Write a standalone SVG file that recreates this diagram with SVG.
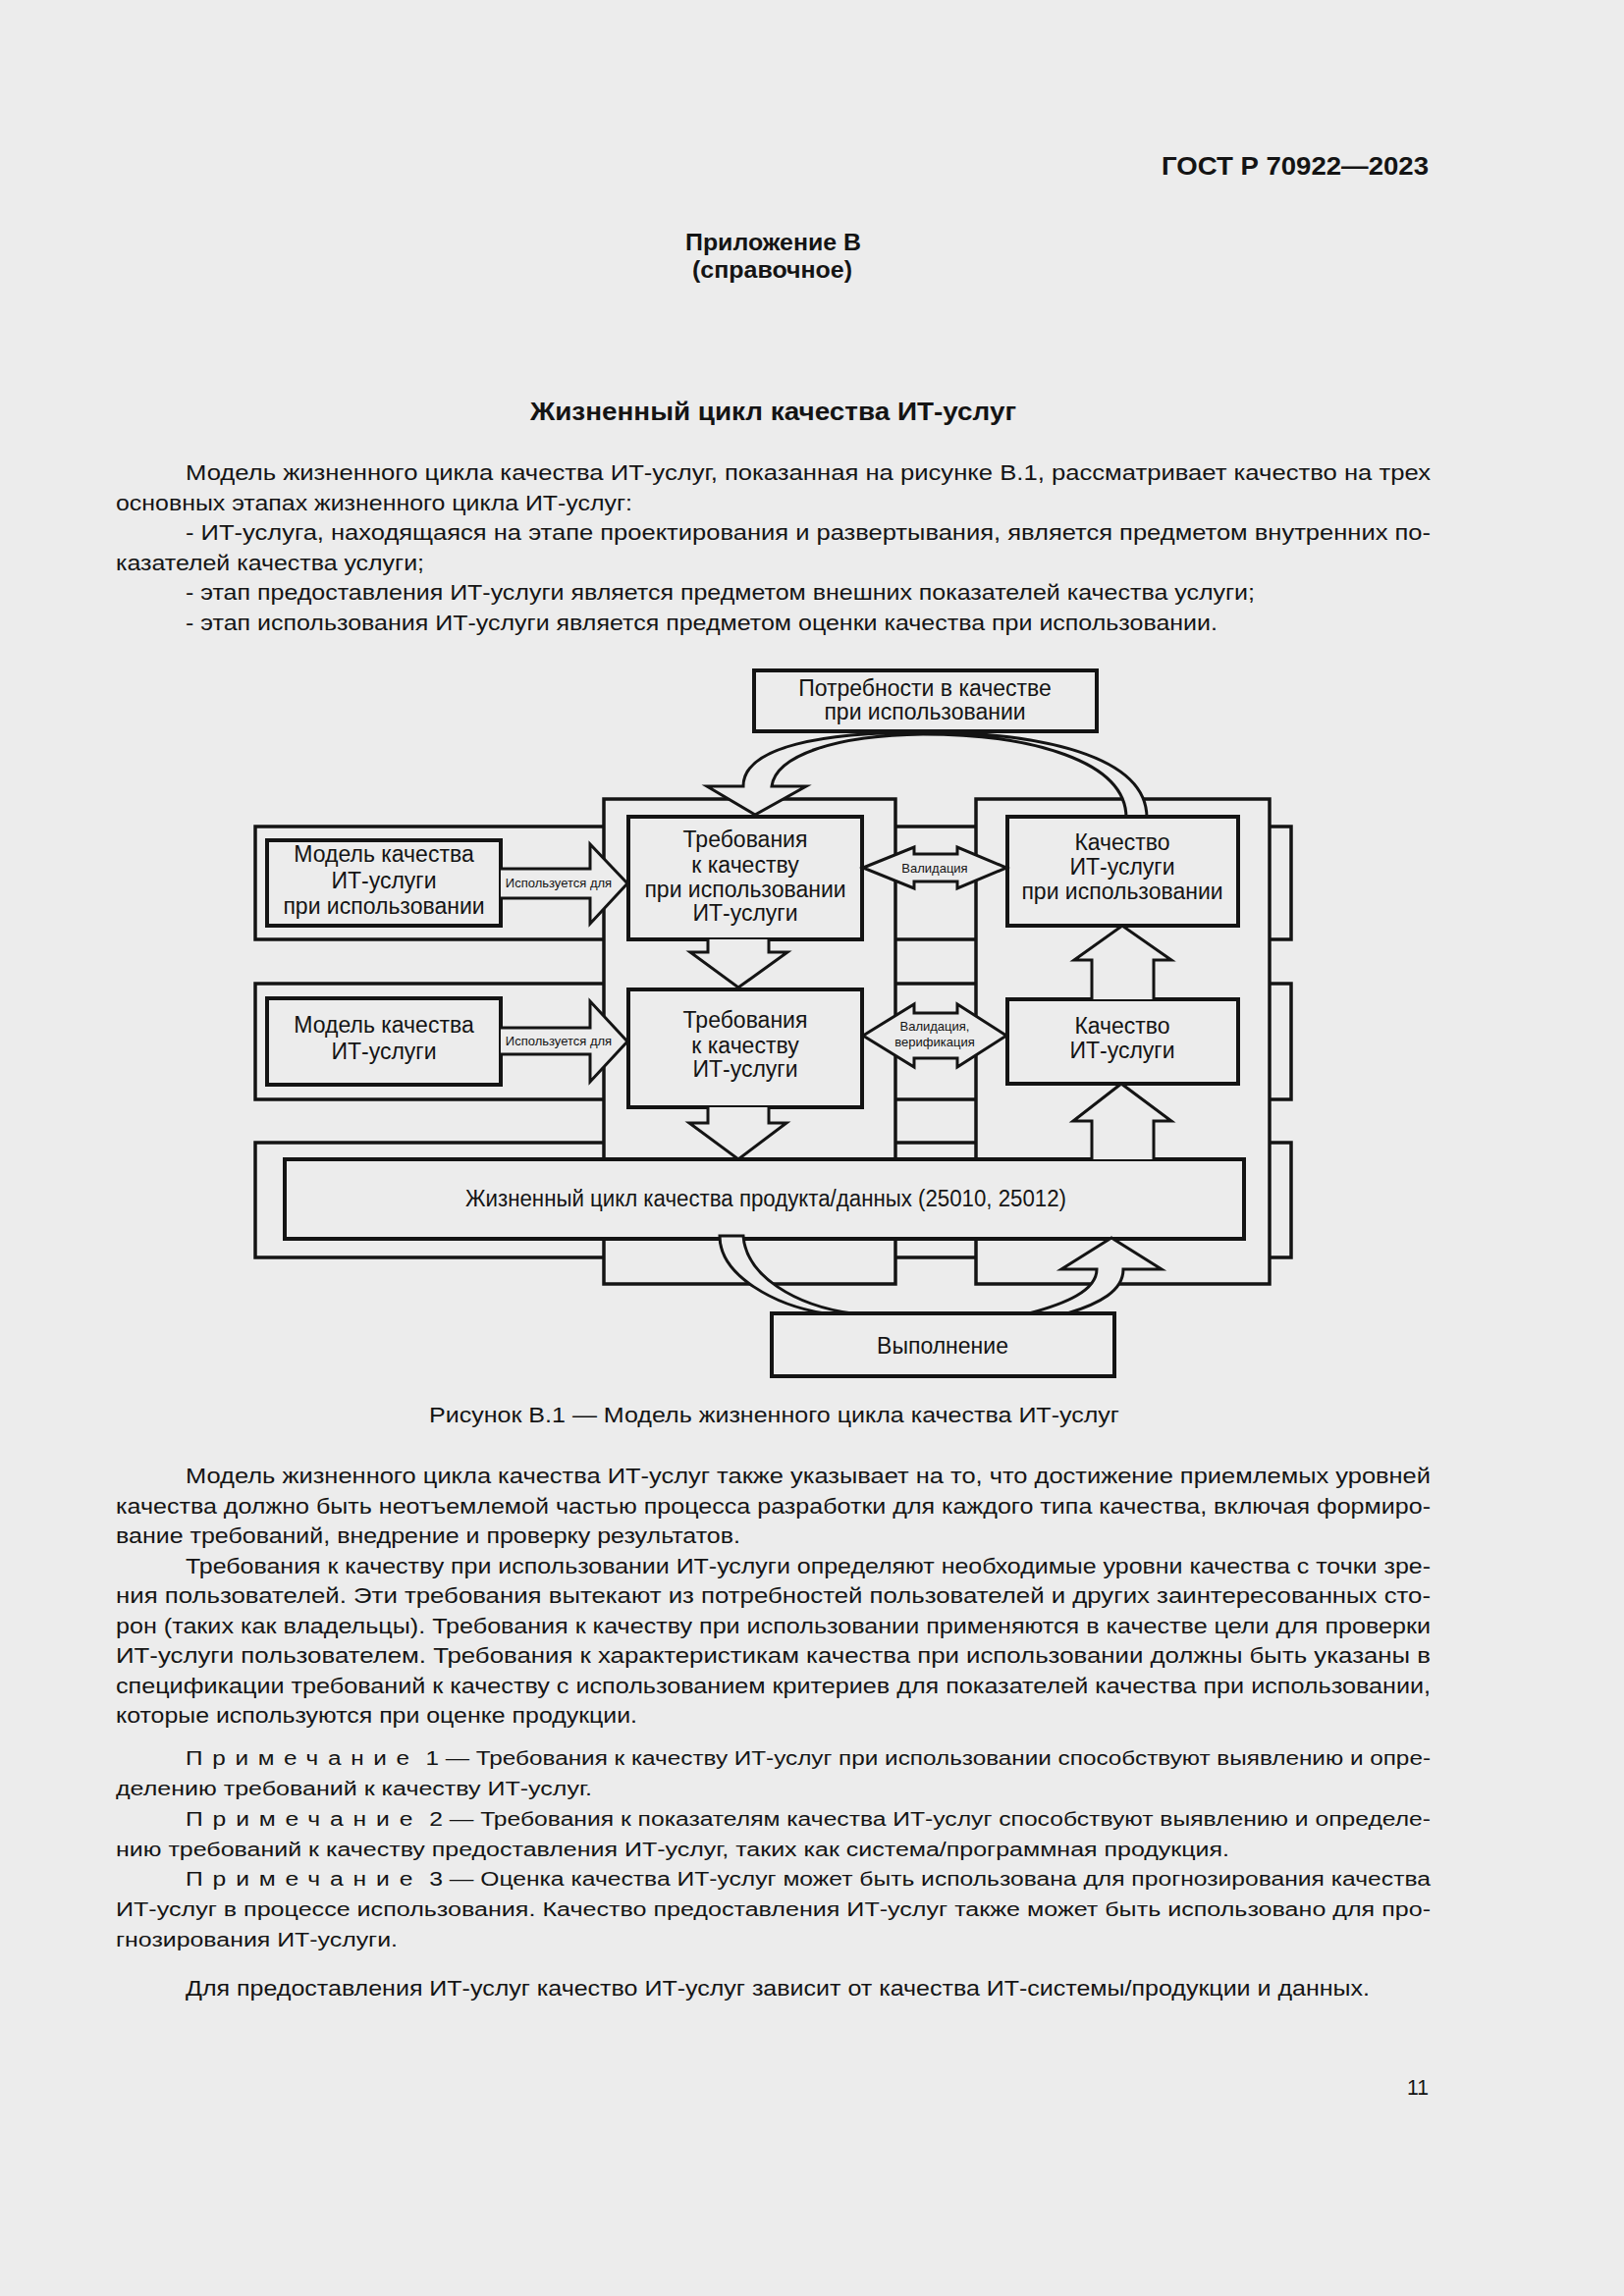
<svg xmlns="http://www.w3.org/2000/svg" width="1654" height="2339" viewBox="0 0 1654 2339">
<style>
.t{font-family:"Liberation Sans",Arial,"Noto Sans",sans-serif;fill:#141414}
.b{font-weight:bold}
.body{font-size:22px}
.note{font-size:20px}
.bt{font-size:23px;text-anchor:middle}
.lbl{font-size:13px;text-anchor:middle}
.frame{fill:none;stroke:#141414;stroke-width:3.5}
.col{fill:#ececec;stroke:#141414;stroke-width:3.5}
.box{fill:#ececec;stroke:#141414;stroke-width:4}
.arr{fill:#ececec;stroke:#141414;stroke-width:3;stroke-linejoin:miter}
</style>
<rect x="0" y="0" width="1654" height="2339" fill="#ececec"/>

<g id="page-header">
<text class="t b" x="1183" y="178" font-size="26" textLength="272" lengthAdjust="spacingAndGlyphs">ГОСТ Р 70922—2023</text>
<text class="t b" x="698" y="255" font-size="24" textLength="179" lengthAdjust="spacingAndGlyphs">Приложение В</text>
<text class="t b" x="705" y="283" font-size="24" textLength="163" lengthAdjust="spacingAndGlyphs">(справочное)</text>
<text class="t b" x="540" y="428" font-size="25" textLength="495" lengthAdjust="spacingAndGlyphs">Жизненный цикл качества ИТ-услуг</text>
</g>

<g id="intro-text" class="t body">
<text x="189" y="489" textLength="1268" lengthAdjust="spacingAndGlyphs">Модель жизненного цикла качества ИТ-услуг, показанная на рисунке В.1, рассматривает качество на трех</text>
<text x="118" y="520" textLength="526" lengthAdjust="spacingAndGlyphs">основных этапах жизненного цикла ИТ-услуг:</text>
<text x="189" y="550" textLength="1268" lengthAdjust="spacingAndGlyphs">- ИТ-услуга, находящаяся на этапе проектирования и развертывания, является предметом внутренних по-</text>
<text x="118" y="581" textLength="314" lengthAdjust="spacingAndGlyphs">казателей качества услуги;</text>
<text x="189" y="611" textLength="1089" lengthAdjust="spacingAndGlyphs">- этап предоставления ИТ-услуги является предметом внешних показателей качества услуги;</text>
<text x="189" y="642" textLength="1051" lengthAdjust="spacingAndGlyphs">- этап использования ИТ-услуги является предметом оценки качества при использовании.</text>
</g>

<g id="row-frames">
<rect class="frame" x="260" y="842" width="1055" height="115"/>
<rect class="frame" x="260" y="1002" width="1055" height="118"/>
<rect class="frame" x="260" y="1164" width="1055" height="117"/>
</g>
<g id="columns">
<rect class="col" x="615" y="814" width="297" height="494"/>
<rect class="col" x="994" y="814" width="299" height="494"/>
</g>

<g id="connectors">
<path class="arr" d="M1147,833 C1147,775 1050,748 940,748 C850,749 790,770 786,801 H821 L769,830 L720,801 H757 C757,760 840,746 940,746 C1060,746 1168,770 1168,833"/>
</g>

<g id="node-needs">
<rect class="box" x="768" y="683" width="349" height="62"/>
<text class="t bt" x="942" y="709">Потребности в качестве</text>
<text class="t bt" x="942" y="733">при использовании</text>
</g>
<g id="node-model-use">
<rect class="box" x="272" y="856" width="238" height="87"/>
<text class="t bt" x="391" y="878">Модель качества</text>
<text class="t bt" x="391" y="905">ИТ-услуги</text>
<text class="t bt" x="391" y="931">при использовании</text>
</g>
<g id="node-model">
<rect class="box" x="272" y="1017" width="238" height="88"/>
<text class="t bt" x="391" y="1052">Модель качества</text>
<text class="t bt" x="391" y="1079">ИТ-услуги</text>
</g>
<g id="node-req-use">
<rect class="box" x="640" y="832" width="238" height="125"/>
<text class="t bt" x="759" y="863">Требования</text>
<text class="t bt" x="759" y="889">к качеству</text>
<text class="t bt" x="759" y="914">при использовании</text>
<text class="t bt" x="759" y="938">ИТ-услуги</text>
</g>
<g id="node-req">
<rect class="box" x="640" y="1008" width="238" height="120"/>
<text class="t bt" x="759" y="1047">Требования</text>
<text class="t bt" x="759" y="1073">к качеству</text>
<text class="t bt" x="759" y="1097">ИТ-услуги</text>
</g>
<g id="node-quality-use">
<rect class="box" x="1026" y="832" width="235" height="111"/>
<text class="t bt" x="1143" y="866">Качество</text>
<text class="t bt" x="1143" y="891">ИТ-услуги</text>
<text class="t bt" x="1143" y="916">при использовании</text>
</g>
<g id="node-quality">
<rect class="box" x="1026" y="1018" width="235" height="86"/>
<text class="t bt" x="1143" y="1053">Качество</text>
<text class="t bt" x="1143" y="1078">ИТ-услуги</text>
</g>
<g id="node-lifecycle">
<rect class="box" x="290" y="1181" width="977" height="81"/>
<text class="t bt" x="780" y="1229" textLength="612" lengthAdjust="spacingAndGlyphs">Жизненный цикл качества продукта/данных (25010, 25012)</text>
</g>

<g id="connectors-2">
<path class="arr" d="M510,885 H601 V860 L639,900 L601,941 V915 H510"/>
<text class="t lbl" x="569" y="904">Используется для</text>
<path class="arr" d="M510,1047 H601 V1020 L639,1061 L601,1102 V1074 H510"/>
<text class="t lbl" x="569" y="1065">Используется для</text>
<path class="arr" d="M721,957 V970 H703 L752,1006 L802,970 H783 V957"/>
<path class="arr" d="M721,1128 V1144 H702 L752,1181 L801,1144 H783 V1128"/>
<path class="arr" d="M1112,1018 V978 H1094 L1143,943 L1193,978 H1175 V1018"/>
<path class="arr" d="M1112,1181 V1142 H1093 L1142,1104 L1193,1142 H1175 V1181"/>
<polygon class="arr" points="879,884 931,863 931,870 975,870 975,863 1025,884 975,905 975,898 931,898 931,905"/>
<text class="t lbl" x="952" y="889">Валидация</text>
<polygon class="arr" points="879,1055 931,1023 931,1032 975,1032 975,1023 1025,1055 975,1087 975,1078 931,1078 931,1087"/>
<text class="t lbl" x="952" y="1050">Валидация,</text>
<text class="t lbl" x="952" y="1066">верификация</text>
<path class="arr" d="M733,1259 H757 C760,1300 810,1330 868,1338 H840 C790,1330 733,1300 733,1259 Z"/>
<path class="arr" d="M1048,1338 C1085,1328 1117,1315 1117,1293 H1081 L1132,1261 L1183,1293 H1144 C1144,1315 1120,1328 1087,1338"/>
</g>

<g id="node-execution">
<rect class="box" x="786" y="1338" width="349" height="64"/>
<text class="t bt" x="960" y="1379">Выполнение</text>
</g>

<g id="caption">
<text class="t body" x="437" y="1449" textLength="703" lengthAdjust="spacingAndGlyphs">Рисунок В.1 — Модель жизненного цикла качества ИТ-услуг</text>
</g>

<g id="body-text" class="t body">
<text x="189" y="1511" textLength="1268" lengthAdjust="spacingAndGlyphs">Модель жизненного цикла качества ИТ-услуг также указывает на то, что достижение приемлемых уровней</text>
<text x="118" y="1541.5" textLength="1339" lengthAdjust="spacingAndGlyphs">качества должно быть неотъемлемой частью процесса разработки для каждого типа качества, включая формиро-</text>
<text x="118" y="1572" textLength="636" lengthAdjust="spacingAndGlyphs">вание требований, внедрение и проверку результатов.</text>
<text x="189" y="1602.5" textLength="1268" lengthAdjust="spacingAndGlyphs">Требования к качеству при использовании ИТ-услуги определяют необходимые уровни качества с точки зре-</text>
<text x="118" y="1633" textLength="1339" lengthAdjust="spacingAndGlyphs">ния пользователей. Эти требования вытекают из потребностей пользователей и других заинтересованных сто-</text>
<text x="118" y="1663.5" textLength="1339" lengthAdjust="spacingAndGlyphs">рон (таких как владельцы). Требования к качеству при использовании применяются в качестве цели для проверки</text>
<text x="118" y="1694" textLength="1339" lengthAdjust="spacingAndGlyphs">ИТ-услуги пользователем. Требования к характеристикам качества при использовании должны быть указаны в</text>
<text x="118" y="1724.5" textLength="1339" lengthAdjust="spacingAndGlyphs">спецификации требований к качеству с использованием критериев для показателей качества при использовании,</text>
<text x="118" y="1755" textLength="531" lengthAdjust="spacingAndGlyphs">которые используются при оценке продукции.</text>
</g>

<g id="notes" class="t note">
<text x="189" y="1798" textLength="1268" lengthAdjust="spacingAndGlyphs"><tspan letter-spacing="8">Примечание</tspan> 1 — Требования к качеству ИТ-услуг при использовании способствуют выявлению и опре-</text>
<text x="118" y="1829" textLength="485" lengthAdjust="spacingAndGlyphs">делению требований к качеству ИТ-услуг.</text>
<text x="189" y="1860" textLength="1268" lengthAdjust="spacingAndGlyphs"><tspan letter-spacing="8">Примечание</tspan> 2 — Требования к показателям качества ИТ-услуг способствуют выявлению и определе-</text>
<text x="118" y="1891" textLength="1134" lengthAdjust="spacingAndGlyphs">нию требований к качеству предоставления ИТ-услуг, таких как система/программная продукция.</text>
<text x="189" y="1921" textLength="1268" lengthAdjust="spacingAndGlyphs"><tspan letter-spacing="8">Примечание</tspan> 3 — Оценка качества ИТ-услуг может быть использована для прогнозирования качества</text>
<text x="118" y="1952" textLength="1339" lengthAdjust="spacingAndGlyphs">ИТ-услуг в процессе использования. Качество предоставления ИТ-услуг также может быть использовано для про-</text>
<text x="118" y="1983" textLength="287" lengthAdjust="spacingAndGlyphs">гнозирования ИТ-услуги.</text>
</g>

<g id="closing-text" class="t body">
<text x="189" y="2033" textLength="1206" lengthAdjust="spacingAndGlyphs">Для предоставления ИТ-услуг качество ИТ-услуг зависит от качества ИТ-системы/продукции и данных.</text>
<text x="1433" y="2134" textLength="22" lengthAdjust="spacingAndGlyphs">11</text>
</g>
</svg>
